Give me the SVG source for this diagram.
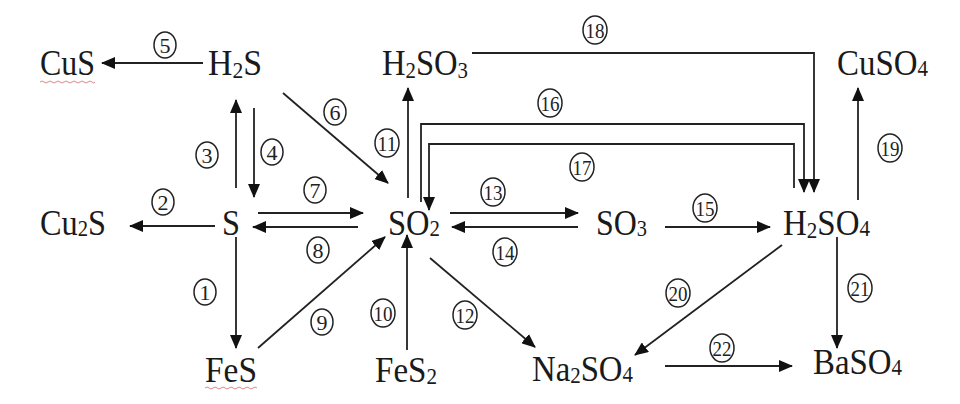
<svg xmlns="http://www.w3.org/2000/svg" width="960" height="404" viewBox="0 0 960 404">
<defs>
<style>
.t{font-family:"Liberation Serif","Times New Roman",serif;font-size:36px;fill:#1a1a1a}
.s{font-size:23px}
.c{fill:none;stroke:#222;stroke-width:1.5}
.n{font-family:"Liberation Serif","Times New Roman",serif;font-size:22px;fill:#222;text-anchor:middle}
.e{fill:none;stroke:#222;stroke-width:1.8}
.a{marker-end:url(#ah)}
.w{fill:none;stroke:#d98a8a;stroke-width:1}
</style>
<marker id="ah" markerUnits="userSpaceOnUse" markerWidth="14" markerHeight="12" viewBox="0 0 14 12" refX="13" refY="6" orient="auto">
<path d="M0,0 L14,6 L0,12 Z" fill="#111"/>
</marker>
</defs>
<rect width="960" height="404" fill="#fff"/>
<g id="connectors">
<line class="e a" x1="203" y1="63" x2="102" y2="63"/>
<line class="e a" x1="215" y1="226" x2="130" y2="226"/>
<line class="e a" x1="236" y1="188" x2="236" y2="100"/>
<line class="e a" x1="254" y1="108" x2="254" y2="197"/>
<line class="e a" x1="283" y1="93" x2="388" y2="183"/>
<line class="e a" x1="258" y1="213" x2="363" y2="213"/>
<line class="e a" x1="358" y1="227" x2="253" y2="227"/>
<line class="e a" x1="236" y1="237" x2="236" y2="348"/>
<line class="e a" x1="258" y1="348" x2="385" y2="237"/>
<line class="e a" x1="407" y1="350" x2="407" y2="235"/>
<line class="e a" x1="408" y1="198" x2="408" y2="88"/>
<line class="e a" x1="430" y1="258" x2="535" y2="347"/>
<line class="e a" x1="450" y1="213" x2="578" y2="213"/>
<line class="e a" x1="578" y1="227" x2="452" y2="227"/>
<line class="e a" x1="665" y1="227" x2="770" y2="227"/>
<polyline class="e a" points="421,202 421,124 804,124 804,192"/>
<polyline class="e a" points="794,188 794,144 429,144 429,210"/>
<polyline class="e a" points="472,53 814,53 814,192"/>
<line class="e a" x1="858" y1="200" x2="858" y2="88"/>
<line class="e a" x1="782" y1="245" x2="635" y2="355"/>
<line class="e a" x1="837" y1="237" x2="837" y2="348"/>
<line class="e a" x1="665" y1="366" x2="792" y2="366"/>
</g>
<g id="labels">
<ellipse class="c" cx="205" cy="292" rx="11" ry="13"/><text class="n" x="205" y="300">1</text>
<ellipse class="c" cx="163" cy="202" rx="11" ry="13"/><text class="n" x="163" y="210">2</text>
<ellipse class="c" cx="207" cy="155" rx="11" ry="13"/><text class="n" x="207" y="163">3</text>
<ellipse class="c" cx="272" cy="152" rx="11" ry="13"/><text class="n" x="272" y="160">4</text>
<ellipse class="c" cx="165" cy="45" rx="11" ry="13"/><text class="n" x="165" y="53">5</text>
<ellipse class="c" cx="335" cy="112" rx="11" ry="13"/><text class="n" x="335" y="120">6</text>
<ellipse class="c" cx="315" cy="190" rx="11" ry="13"/><text class="n" x="315" y="198">7</text>
<ellipse class="c" cx="318" cy="250" rx="11" ry="13"/><text class="n" x="318" y="258">8</text>
<ellipse class="c" cx="322" cy="322" rx="11" ry="13"/><text class="n" x="322" y="330">9</text>
<ellipse class="c" cx="383" cy="313" rx="12" ry="14"/><text class="n" x="383" y="321" textLength="19" lengthAdjust="spacingAndGlyphs">10</text>
<ellipse class="c" cx="387" cy="143" rx="12" ry="14"/><text class="n" x="387" y="151" textLength="19" lengthAdjust="spacingAndGlyphs">11</text>
<ellipse class="c" cx="465" cy="315" rx="12" ry="14"/><text class="n" x="465" y="323" textLength="19" lengthAdjust="spacingAndGlyphs">12</text>
<ellipse class="c" cx="493" cy="192" rx="12" ry="14"/><text class="n" x="493" y="200" textLength="19" lengthAdjust="spacingAndGlyphs">13</text>
<ellipse class="c" cx="505" cy="252" rx="12" ry="14"/><text class="n" x="505" y="260" textLength="19" lengthAdjust="spacingAndGlyphs">14</text>
<ellipse class="c" cx="705" cy="208" rx="12" ry="14"/><text class="n" x="705" y="216" textLength="19" lengthAdjust="spacingAndGlyphs">15</text>
<ellipse class="c" cx="550" cy="103" rx="12" ry="14"/><text class="n" x="550" y="111" textLength="19" lengthAdjust="spacingAndGlyphs">16</text>
<ellipse class="c" cx="582" cy="167" rx="12" ry="14"/><text class="n" x="582" y="175" textLength="19" lengthAdjust="spacingAndGlyphs">17</text>
<ellipse class="c" cx="595" cy="30" rx="12" ry="14"/><text class="n" x="595" y="38" textLength="19" lengthAdjust="spacingAndGlyphs">18</text>
<ellipse class="c" cx="890" cy="148" rx="12" ry="14"/><text class="n" x="890" y="156" textLength="19" lengthAdjust="spacingAndGlyphs">19</text>
<ellipse class="c" cx="678" cy="293" rx="12" ry="14"/><text class="n" x="678" y="301" textLength="19" lengthAdjust="spacingAndGlyphs">20</text>
<ellipse class="c" cx="860" cy="288" rx="12" ry="14"/><text class="n" x="860" y="296" textLength="19" lengthAdjust="spacingAndGlyphs">21</text>
<ellipse class="c" cx="722" cy="348" rx="12" ry="14"/><text class="n" x="722" y="356" textLength="19" lengthAdjust="spacingAndGlyphs">22</text>
</g>
<g id="CuS"><text class="t" x="40" y="75" textLength="55" lengthAdjust="spacingAndGlyphs">CuS</text>
<path class="w" d="M40,82 q2,-2 4,0 t4,0 t4,0 t4,0 t4,0 t4,0 t4,0 t4,0 t4,0 t4,0 t4,0 t4,0 t4,0 t3,0"/></g>
<g id="H2S"><text class="t" x="208" y="75" textLength="54" lengthAdjust="spacingAndGlyphs">H<tspan class="s" dy="3">2</tspan><tspan dy="-3">S</tspan></text></g>
<g id="H2SO3"><text class="t" x="382" y="75" textLength="86" lengthAdjust="spacingAndGlyphs">H<tspan class="s" dy="3">2</tspan><tspan dy="-3">SO</tspan><tspan class="s" dy="3">3</tspan></text></g>
<g id="CuSO4"><text class="t" x="837" y="75" textLength="91" lengthAdjust="spacingAndGlyphs">CuSO<tspan class="s" dy="1">4</tspan></text></g>
<g id="Cu2S"><text class="t" x="40" y="235" textLength="66" lengthAdjust="spacingAndGlyphs">Cu<tspan class="s" dy="1">2</tspan><tspan dy="-1">S</tspan></text></g>
<g id="S"><text class="t" x="222" y="235" textLength="18" lengthAdjust="spacingAndGlyphs">S</text></g>
<g id="SO2"><text class="t" x="388" y="235" textLength="52" lengthAdjust="spacingAndGlyphs">SO<tspan class="s" dy="1">2</tspan></text></g>
<g id="SO3"><text class="t" x="596" y="235" textLength="51" lengthAdjust="spacingAndGlyphs">SO<tspan class="s" dy="1">3</tspan></text></g>
<g id="H2SO4"><text class="t" x="783" y="235" textLength="87" lengthAdjust="spacingAndGlyphs">H<tspan class="s" dy="3">2</tspan><tspan dy="-3">SO</tspan><tspan class="s" dy="1">4</tspan></text></g>
<g id="FeS"><text class="t" x="205" y="382" textLength="52" lengthAdjust="spacingAndGlyphs">FeS</text>
<path class="w" d="M205,388 q2,-2 4,0 t4,0 t4,0 t4,0 t4,0 t4,0 t4,0 t4,0 t4,0 t4,0 t4,0 t4,0 t4,0"/></g>
<g id="FeS2"><text class="t" x="375" y="382" textLength="62" lengthAdjust="spacingAndGlyphs">FeS<tspan class="s" dy="2">2</tspan></text></g>
<g id="Na2SO4"><text class="t" x="532" y="381" textLength="101" lengthAdjust="spacingAndGlyphs">Na<tspan class="s" dy="2">2</tspan><tspan dy="-2">SO</tspan><tspan class="s" dy="1">4</tspan></text></g>
<g id="BaSO4"><text class="t" x="813" y="374" textLength="89" lengthAdjust="spacingAndGlyphs">BaSO<tspan class="s" dy="1">4</tspan></text></g>
</svg>
